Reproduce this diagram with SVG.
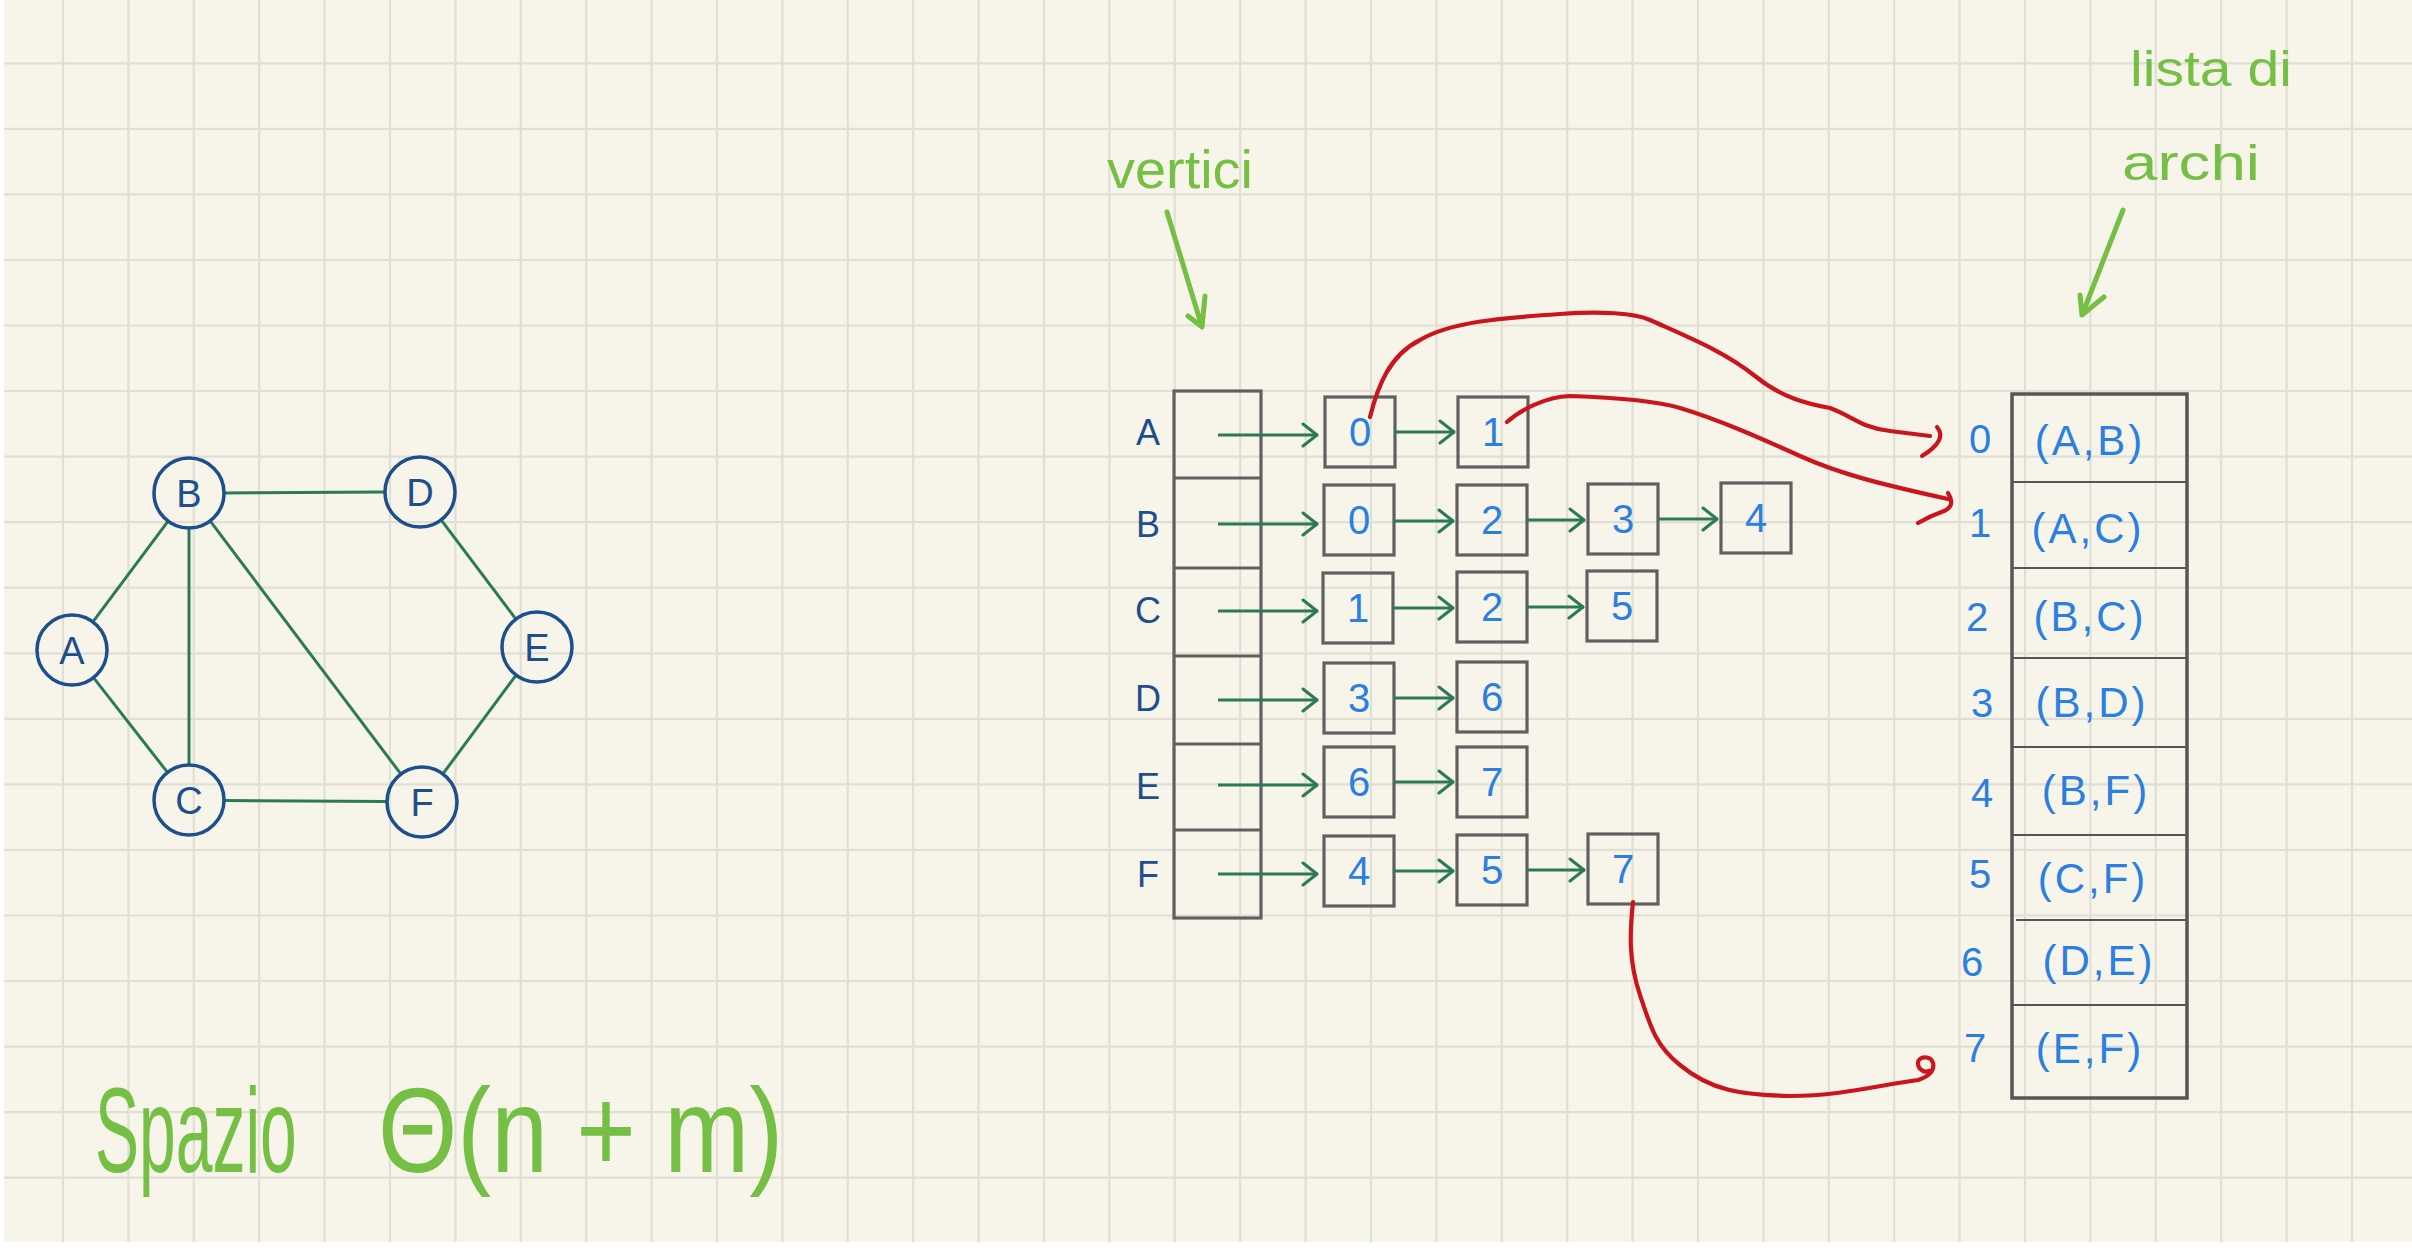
<svg xmlns="http://www.w3.org/2000/svg" width="2412" height="1250" viewBox="0 0 2412 1250">
<defs>
<style>
.grid{stroke:#e1dfd5;stroke-width:2.2;fill:none}
.gnode{fill:none;stroke:#1d4f8c;stroke-width:3.5}
.glabel{font-family:"Liberation Sans",Arial,sans-serif;font-size:38px;fill:#1d4f8c;text-anchor:middle}
.gedge{stroke:#2b7a55;stroke-width:3;fill:none}
.box{fill:none;stroke:#606060;stroke-width:3.2}
.num{font-family:"Liberation Sans",Arial,sans-serif;font-size:40px;fill:#2a7fe0;text-anchor:middle}
.vlabel{font-family:"Liberation Sans",Arial,sans-serif;font-size:36px;fill:#1d4f8c;text-anchor:middle}
.ptr{stroke:#2b7a55;stroke-width:3;fill:none;marker-end:url(#chev)}
.red{stroke:#c9151b;stroke-width:4.2;fill:none;stroke-linecap:round;stroke-linejoin:round}
.note{font-family:"Liberation Sans",Arial,sans-serif;fill:#74bf44}
.noteline{stroke:#74bf44;stroke-width:5;fill:none;stroke-linecap:round;stroke-linejoin:round}
.pair{font-family:"Liberation Sans",Arial,sans-serif;font-size:42px;fill:#2a7fe0;text-anchor:middle;letter-spacing:3px}
.idx{font-family:"Liberation Sans",Arial,sans-serif;font-size:40px;fill:#2a7fe0;text-anchor:middle}
</style>
<marker id="chev" viewBox="0 0 18 26" refX="17" refY="13" markerWidth="18" markerHeight="26" markerUnits="userSpaceOnUse" orient="auto">
<path d="M2,2 L16,13 L2,24" fill="none" stroke="#2b7a55" stroke-width="3" stroke-linecap="round" stroke-linejoin="round"/>
</marker>
</defs>
<rect x="0" y="0" width="2412" height="1250" fill="#ffffff"/>
<rect x="4" y="0" width="2408" height="1242" fill="#f7f5ea"/>
<g id="grid" class="grid">
<path d="M63,0V1242M128.4,0V1242M193.8,0V1242M259.2,0V1242M324.6,0V1242M390,0V1242M455.4,0V1242M520.8,0V1242M586.2,0V1242M651.6,0V1242M717,0V1242M782.4,0V1242M847.8,0V1242M913.2,0V1242M978.6,0V1242M1044,0V1242M1109.4,0V1242M1174.8,0V1242M1240.2,0V1242M1305.6,0V1242M1371,0V1242M1436.4,0V1242M1501.8,0V1242M1567.2,0V1242M1632.6,0V1242M1698,0V1242M1763.4,0V1242M1828.8,0V1242M1894.2,0V1242M1959.6,0V1242M2025,0V1242M2090.4,0V1242M2155.8,0V1242M2221.2,0V1242M2286.6,0V1242M2352,0V1242"/>
<path d="M4,63.3H2412M4,128.9H2412M4,194.4H2412M4,260H2412M4,325.5H2412M4,391H2412M4,456.6H2412M4,522.2H2412M4,587.7H2412M4,653.3H2412M4,718.8H2412M4,784.4H2412M4,849.9H2412M4,915.5H2412M4,981H2412M4,1046.6H2412M4,1112.1H2412M4,1177.7H2412"/>
</g>

<g id="graph-edges">
<line class="gedge" x1="224" y1="493" x2="385" y2="492"/>
<line class="gedge" x1="92.9" y1="621.9" x2="168.1" y2="521.1"/>
<line class="gedge" x1="189" y1="528" x2="189" y2="765"/>
<line class="gedge" x1="210.1" y1="520.9" x2="400.9" y2="774.1"/>
<line class="gedge" x1="441.1" y1="519.9" x2="515.9" y2="619.1"/>
<line class="gedge" x1="93.5" y1="677.6" x2="167.5" y2="772.4"/>
<line class="gedge" x1="224" y1="800.5" x2="387" y2="801.5"/>
<line class="gedge" x1="516.1" y1="675.1" x2="442.9" y2="773.9"/>
</g>
<g id="node-A"><circle class="gnode" cx="72" cy="650" r="35"/><text class="glabel" x="72" y="664">A</text></g>
<g id="node-B"><circle class="gnode" cx="189" cy="493" r="35"/><text class="glabel" x="189" y="507">B</text></g>
<g id="node-C"><circle class="gnode" cx="189" cy="800" r="35"/><text class="glabel" x="189" y="814">C</text></g>
<g id="node-D"><circle class="gnode" cx="420" cy="492" r="35"/><text class="glabel" x="420" y="506">D</text></g>
<g id="node-E"><circle class="gnode" cx="537" cy="647" r="35"/><text class="glabel" x="537" y="661">E</text></g>
<g id="node-F"><circle class="gnode" cx="422" cy="802" r="35"/><text class="glabel" x="422" y="816">F</text></g>

<g id="vertex-array">
<rect class="box" x="1174" y="391" width="87" height="527"/>
<path class="box" d="M1174,478H1261M1174,568H1261M1174,656H1261M1174,744H1261M1174,830H1261"/>
<text class="vlabel" x="1148" y="445">A</text>
<text class="vlabel" x="1148" y="537">B</text>
<text class="vlabel" x="1148" y="623">C</text>
<text class="vlabel" x="1148" y="711">D</text>
<text class="vlabel" x="1148" y="799">E</text>
<text class="vlabel" x="1148" y="887">F</text>
</g>

<g id="list-A">
<rect class="box" x="1325" y="397" width="70" height="70"/><text class="num" x="1360" y="446">0</text>
<rect class="box" x="1458" y="397" width="70" height="70"/><text class="num" x="1493" y="446">1</text>
</g>
<g id="list-B">
<rect class="box" x="1324" y="485" width="70" height="70"/><text class="num" x="1359" y="534">0</text>
<rect class="box" x="1457" y="485" width="70" height="70"/><text class="num" x="1492" y="534">2</text>
<rect class="box" x="1588" y="484" width="70" height="70"/><text class="num" x="1623" y="533">3</text>
<rect class="box" x="1721" y="483" width="70" height="70"/><text class="num" x="1756" y="532">4</text>
</g>
<g id="list-C">
<rect class="box" x="1323" y="573" width="70" height="70"/><text class="num" x="1358" y="622">1</text>
<rect class="box" x="1457" y="572" width="70" height="70"/><text class="num" x="1492" y="621">2</text>
<rect class="box" x="1587" y="571" width="70" height="70"/><text class="num" x="1622" y="620">5</text>
</g>
<g id="list-D">
<rect class="box" x="1324" y="663" width="70" height="70"/><text class="num" x="1359" y="712">3</text>
<rect class="box" x="1457" y="662" width="70" height="70"/><text class="num" x="1492" y="711">6</text>
</g>
<g id="list-E">
<rect class="box" x="1324" y="747" width="70" height="70"/><text class="num" x="1359" y="796">6</text>
<rect class="box" x="1457" y="747" width="70" height="70"/><text class="num" x="1492" y="796">7</text>
</g>
<g id="list-F">
<rect class="box" x="1324" y="836" width="70" height="70"/><text class="num" x="1359" y="885">4</text>
<rect class="box" x="1457" y="835" width="70" height="70"/><text class="num" x="1492" y="884">5</text>
<rect class="box" x="1588" y="834" width="70" height="70"/><text class="num" x="1623" y="883">7</text>
</g>

<g id="edge-list">
<rect x="2012" y="394" width="175" height="704" fill="none" stroke="#555" stroke-width="3.5"/>
<path d="M2012,482H2187M2012,568H2187M2012,658H2187M2012,747H2187M2012,835H2187M2016,920H2187M2012,1005H2187" stroke="#555" stroke-width="2.2" fill="none"/>
<text class="idx" x="1980" y="453">0</text>
<text class="idx" x="1980" y="537">1</text>
<text class="idx" x="1977" y="631">2</text>
<text class="idx" x="1982" y="717">3</text>
<text class="idx" x="1982" y="807">4</text>
<text class="idx" x="1980" y="888">5</text>
<text class="idx" x="1972" y="976">6</text>
<text class="idx" x="1975" y="1062">7</text>
<text class="pair" x="2090" y="455">(A,B)</text>
<text class="pair" x="2088" y="543">(A,C)</text>
<text class="pair" x="2090" y="631">(B,C)</text>
<text class="pair" x="2092" y="717">(B,D)</text>
<text class="pair" x="2096" y="805">(B,F)</text>
<text class="pair" x="2093" y="893">(C,F)</text>
<text class="pair" x="2099" y="975">(D,E)</text>
<text class="pair" x="2090" y="1063">(E,F)</text>
</g>

<g id="connectors">
<line class="ptr" x1="1218" y1="435" x2="1318" y2="435"/>
<line class="ptr" x1="1218" y1="524" x2="1318" y2="524"/>
<line class="ptr" x1="1218" y1="611" x2="1318" y2="611"/>
<line class="ptr" x1="1218" y1="700" x2="1318" y2="700"/>
<line class="ptr" x1="1218" y1="785" x2="1318" y2="785"/>
<line class="ptr" x1="1218" y1="874" x2="1318" y2="874"/>
<line class="ptr" x1="1395" y1="432" x2="1455" y2="432"/>
<line class="ptr" x1="1394" y1="521" x2="1454" y2="521"/>
<line class="ptr" x1="1527" y1="520" x2="1585" y2="520"/>
<line class="ptr" x1="1658" y1="519" x2="1718" y2="519"/>
<line class="ptr" x1="1393" y1="608" x2="1454" y2="608"/>
<line class="ptr" x1="1527" y1="607" x2="1584" y2="607"/>
<line class="ptr" x1="1394" y1="698" x2="1454" y2="698"/>
<line class="ptr" x1="1394" y1="782" x2="1454" y2="782"/>
<line class="ptr" x1="1394" y1="871" x2="1454" y2="871"/>
<line class="ptr" x1="1527" y1="870" x2="1585" y2="870"/>
<path class="red" d="M1370,417 C1378,385 1390,355 1420,340 C1450,322 1500,318 1560,314 C1600,311 1635,313 1650,320 C1690,338 1725,352 1755,376 C1782,398 1808,404 1830,408 C1852,416 1862,428 1890,431 L1930,436"/>
<path class="red" d="M1937,427 Q1948,440 1922,456"/>
<path class="red" d="M1507,422 C1520,410 1545,397 1570,396 C1600,397 1650,399 1680,408 C1720,420 1760,438 1800,456 C1840,474 1880,484 1948,499"/>
<path class="red" d="M1948,493 Q1956,506 1944,511 Q1930,516 1918,523"/>
<path class="red" d="M1633,902 C1630,930 1628,960 1640,995 C1650,1025 1655,1045 1680,1065 C1710,1090 1740,1095 1790,1096 C1840,1096 1880,1085 1918,1080 C1928,1077 1935,1071 1933,1063 C1931,1055 1918,1056 1918,1063 C1918,1070 1925,1073 1929,1071"/>
</g>

<g id="annotations">
<text class="note" x="1107" y="188" font-size="54" textLength="146" lengthAdjust="spacingAndGlyphs">vertici</text>
<path class="noteline" d="M1167,212 L1202,327 M1188,316 L1202,327 L1205,296"/>
<text class="note" x="2130" y="86" font-size="50" textLength="162" lengthAdjust="spacingAndGlyphs">lista di</text>
<text class="note" x="2122" y="180" font-size="50" textLength="138" lengthAdjust="spacingAndGlyphs">archi</text>
<path class="noteline" d="M2123,210 L2082,315 M2080,295 L2082,315 L2104,297"/>
<text class="note" font-size="120" transform="translate(95,1172) scale(0.55,1)" x="0" y="0">Spazio</text>
<text class="note" font-size="120" transform="translate(378,1172) scale(0.85,1)" x="0" y="0">Θ(n + m)</text>
</g>
</svg>
